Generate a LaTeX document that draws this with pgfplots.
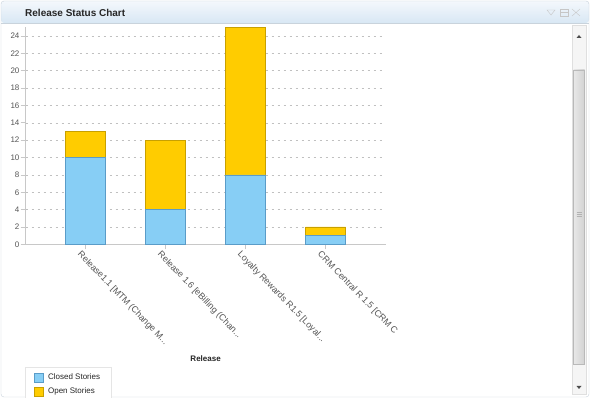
\documentclass[border=0pt]{standalone}
\usepackage{pgfplots}
\pgfplotsset{compat=1.18}
\usepackage{fontspec}
\setmainfont{Liberation Sans}
\definecolor{closedc}{HTML}{87CEF5}
\definecolor{closedb}{HTML}{5A9CC8}
\definecolor{openc}{HTML}{FFCC00}
\definecolor{openb}{HTML}{C8A000}
\definecolor{framec}{HTML}{C9D3DC}
\definecolor{titletop}{HTML}{F4F8FC}
\definecolor{titlebot}{HTML}{D8E7F4}
\definecolor{axisc}{HTML}{C8C8C8}
\definecolor{gridc}{HTML}{C0C0C0}
\definecolor{labc}{HTML}{555555}
\begin{document}
\begin{tikzpicture}[x=1pt,y=1pt]
\useasboundingbox (0,0) rectangle (590,398);
% window frame
\fill[white] (0,0) rectangle (590,398);
\shade[top color=titletop,bottom color=titlebot,rounded corners=3pt] (1,375) rectangle (589,397);
\fill[white] (2,2) rectangle (588,375);
\draw[framec,rounded corners=3pt] (1,1) rectangle (589,397);
\draw[framec] (1,375) -- (589,375);
\node[anchor=base west,font=\fontsize{10}{12}\selectfont\bfseries,text=black!85,inner sep=0pt] at (25,381) {Release Status Chart};
% window icons
\draw[gray!45] (547,388) -- (555,388) -- (551,383) -- cycle;
\draw[gray!45] (560,382) rectangle (568,389);
\draw[gray!45] (560,386) -- (568,386);
\draw[gray!45] (572,382) -- (580,389) (572,389) -- (580,382);
% scrollbar
\fill[gray!8] (572,4) rectangle (586,373);
\draw[gray!25] (572,4) rectangle (586,373);
\shade[left color=gray!18,right color=gray!35] (573.5,34) rectangle (584.5,328);
\draw[gray!55] (573.5,34) rectangle (584.5,328);
\draw[gray!60] (576.5,182) -- (581.5,182) (576.5,184) -- (581.5,184) (576.5,186) -- (581.5,186);
\fill[black!70] (576.5,360) -- (581.5,360) -- (579,363) -- cycle;
\fill[black!70] (576.5,12) -- (581.5,12) -- (579,9) -- cycle;
\begin{axis}[
  at={(32,177)}, anchor=south west,
  scale only axis, width=360pt, height=217pt,
  ybar stacked, bar width=40pt,
  xmin=-0.75, xmax=3.75, ymin=0, ymax=25,
  axis lines*=left,
  axis line style={axisc, line width=1.2pt},
  ytick={0,2,4,6,8,10,12,14,16,18,20,22,24},
  xtick={0,1,2,3},
  xticklabels={{Release1.1 [MTM (Change M..{}.},{Release 1.6 [eBilling (Chan..{}.},{Loyalty Rewards R1.5 [Loyal..{}.},{CRM Central R 1.5 [CRM C}},
  tick style={axisc, line width=0.8pt},
  major tick length=5pt,
  tick align=outside,
  ymajorgrids,
  grid style={gridc, dash pattern=on 2pt off 4pt, line width=0.6pt},
  /pgf/number format/assume math mode=true,
  yticklabel style={font=\fontsize{8}{9}\selectfont, text=labc, inner sep=1pt},
  xticklabel style={font=\fontsize{9}{10}\selectfont, text=labc, rotate=-46, anchor=north west, inner sep=1pt, xshift=-3pt, yshift=-2pt},
  xlabel={Release},
  xlabel style={font=\fontsize{8}{9}\selectfont\bfseries, text=black!85, at={(axis description cs:0.5,-0.525)}, anchor=center},
  legend style={at={(-0.003,-0.567)}, anchor=north west, draw=gray!20, font=\fontsize{8}{9}\selectfont, text=black!85, inner xsep=9pt, inner ysep=4pt, row sep=3pt, cells={anchor=west}},
  legend image code/.code={\draw[#1] (0pt,-4.5pt) rectangle (9pt,4.5pt); \path (12pt,0pt);},
  clip=false,
]
\addplot[fill=closedc, draw=closedb] coordinates {(0,10) (1,4) (2,8) (3,1)};
\addplot[fill=openc, draw=openb] coordinates {(0,3) (1,8) (2,17) (3,1)};
\legend{Closed Stories, Open Stories}
\end{axis}
\end{tikzpicture}
\end{document}
